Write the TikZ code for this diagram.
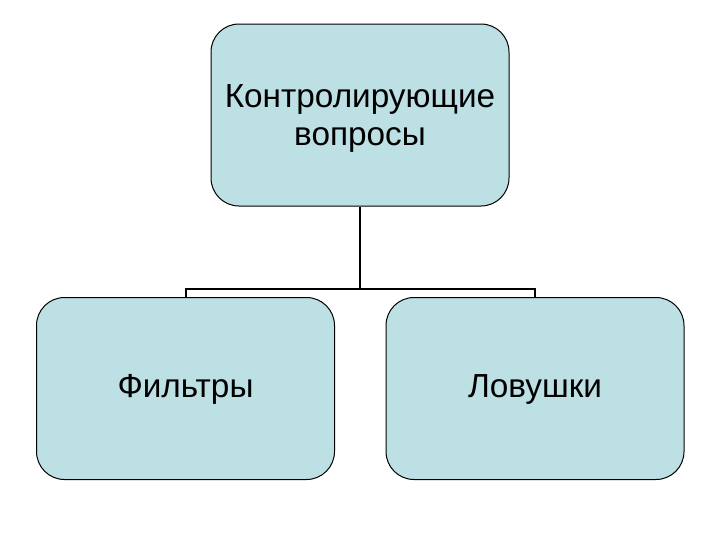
\documentclass[tikz,border=0pt]{standalone}
\usepackage{fontspec}
\setmainfont{Liberation Sans}
\definecolor{boxfill}{RGB}{189,224,228}
\begin{document}
\begin{tikzpicture}[x=0.75pt,y=-0.75pt,
	box/.style={draw=black, fill=boxfill, rounded corners=21pt, line width=0.75pt,
		minimum width=223.5pt, minimum height=136.5pt, inner sep=0pt, text depth=0pt,
		align=center, font=\fontsize{25}{28.5}\selectfont},
	leaf/.style={box, text height=18pt, text depth=4pt},
	link/.style={line width=1.5pt}]
	\useasboundingbox (0,0) rectangle (720,540);
	
	% Boxes
	\node[box] (top) at (360,115) {Контролирующие\\ вопросы};
	\node[leaf] (filters) at (185.5,388.5) {Фильтры};
	\node[leaf] (traps) at (535,388.5) {Ловушки};
	
	% Tree lines
	\draw[link] (top.south) -- (top.south |- 0,289) coordinate (joint);
	\draw[link] (filters.north) -- (filters.north |- joint) -- (traps.north |- joint) -- (traps.north);
\end{tikzpicture}
\end{document}
